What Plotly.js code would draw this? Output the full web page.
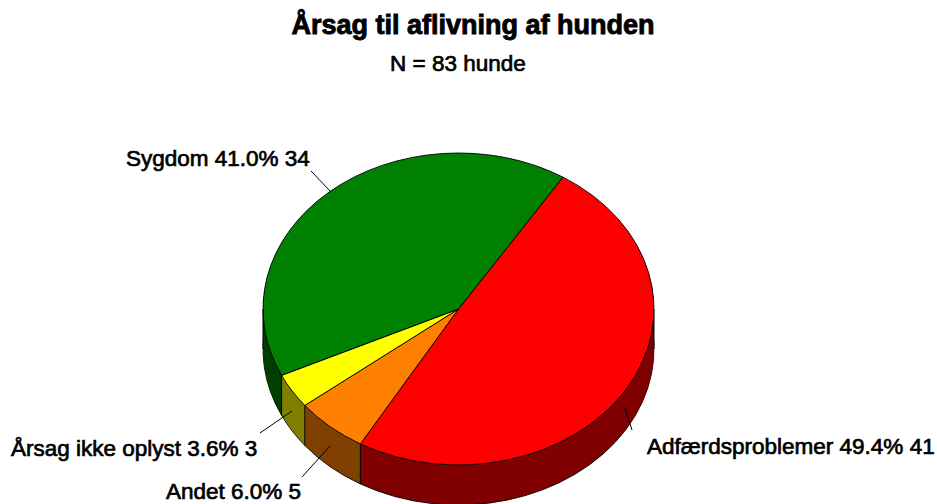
<!DOCTYPE html>
<html>
<head>
<meta charset="utf-8">
<script src="https://cdn.plot.ly/plotly-3.0.1.min.js"></script>
<style>html,body{margin:0;padding:0;background:#fff}#chart{width:937px;height:504px}</style>
</head>
<body>
<div id="chart"></div>
<script>
const categories = ["Adfærdsproblemer", "Andet", "Årsag ikke oplyst", "Sygdom"];
const counts = [41, 5, 3, 34];
const percents = ["49.4%", "6.0%", "3.6%", "41.0%"];
const topColors = ["#ff0000", "#ff8000", "#ffff00", "#008000"];
const wallColors = ["#800000", "#804000", "#808000", "#004000"];

const W = 937, H = 504;
const cx = 458.5, cy = 309, rx = 195.5, ry = 156, depth = 40;
const rotation = 32.3;
const squash = ry / rx;
const midY = 252;
const step = 1 / squash;

function pieTrace(yCentre, colors, lineWidth) {
  return {
    type: "pie", values: counts, labels: categories, sort: false,
    direction: "clockwise", rotation: rotation, textinfo: "none", hoverinfo: "none",
    showlegend: false,
    domain: { x: [(cx - rx) / W, (cx + rx) / W],
              y: [1 - (yCentre + rx) / H, 1 - (yCentre - rx) / H] },
    marker: { colors: colors, line: { color: "#000000", width: lineWidth } }
  };
}

const traces = [];
for (let i = depth; i >= 1; i--) {
  traces.push(pieTrace(midY + i * step, wallColors, i === depth ? 1 : 0));
}
traces.push(pieTrace(midY, topColors, 1));

const px = v => v / W, py = v => 1 - v / H;
function seg(x0, y0, x1, y1) {
  return { type: "line", xref: "paper", yref: "paper", layer: "above",
           x0: px(x0), y0: py(y0), x1: px(x1), y1: py(y1),
           line: { color: "#000000", width: 1 } };
}
const total = counts.reduce((a, b) => a + b, 0);
const shapes = [];
let run = 0;
counts.forEach(v => {
  run += v;
  const t = (rotation + 360 * run / total) * Math.PI / 180;
  if (Math.cos(t) < 0) {
    const x = cx + rx * Math.sin(t), y = cy - ry * Math.cos(t);
    shapes.push(seg(x, y, x, y + depth));
  }
});
shapes.push(seg(cx - rx, cy, cx - rx, cy + depth));
shapes.push(seg(cx + rx, cy, cx + rx, cy + depth));
// leader lines
shapes.push(seg(311, 171, 331, 192));
shapes.push(seg(260, 433, 292, 411));
shapes.push(seg(302, 477, 330, 446));
shapes.push(seg(632, 430, 625, 408));

const labelPos = [[645, 446], [164, 491], [9, 448], [124, 158]];
const labelFont = { family: "Liberation Sans, Arial, sans-serif", size: 22.5, color: "#000000" };
const annotations = categories.map((c, i) => ({
  text: c + " " + percents[i] + " " + counts[i],
  xref: "paper", yref: "paper", x: px(labelPos[i][0]), y: py(labelPos[i][1]),
  xanchor: "left", yanchor: "middle", showarrow: false, font: labelFont
}));
annotations.push({
  text: "N = 83 hunde", xref: "paper", yref: "paper", x: px(458), y: py(63),
  xanchor: "center", yanchor: "middle", showarrow: false, font: labelFont
});

const layout = {
  width: W, height: H, margin: { l: 0, r: 0, t: 0, b: 0 },
  paper_bgcolor: "#ffffff", plot_bgcolor: "#ffffff", showlegend: false,
  title: { text: "<b>Årsag til aflivning af hunden</b>", x: 473 / W, xanchor: "center",
           y: 1 - 25 / H, yanchor: "middle",
           font: { family: "Liberation Sans, Arial, sans-serif", size: 27, color: "#000000" } },
  annotations: annotations, shapes: shapes
};

Plotly.newPlot("chart", traces, layout, { displayModeBar: false, staticPlot: true }).then(() => {
  const t = cy - midY * squash;
  document.querySelectorAll("#chart .pielayer").forEach(g => {
    g.setAttribute("transform", "translate(0," + t + ") scale(1," + squash + ")");
  });
  document.querySelectorAll("#chart .annotation-text").forEach(n => {
    n.style.stroke = "#000000";
    n.style.strokeWidth = "0.7px";
  });
  document.querySelectorAll("#chart .gtitle").forEach(n => {
    n.style.stroke = "#000000";
    n.style.strokeWidth = "0.9px";
  });
});
</script>
</body>
</html>
